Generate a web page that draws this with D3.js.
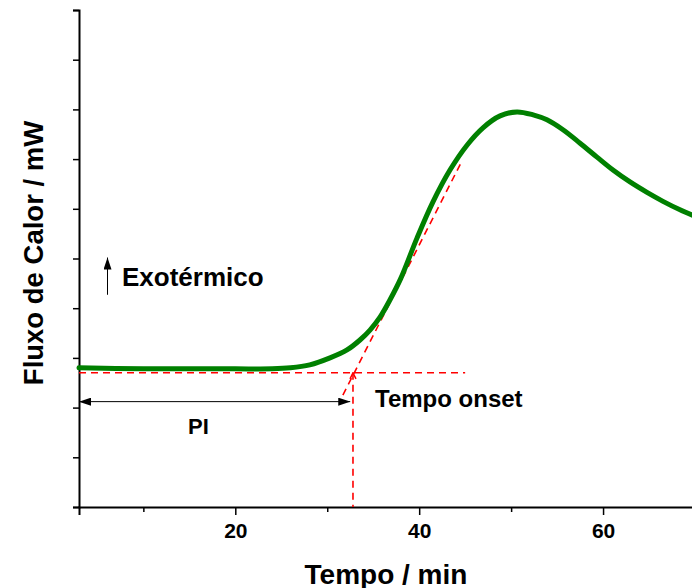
<!DOCTYPE html>
<html>
<head>
<meta charset="utf-8">
<script src="https://cdn.jsdelivr.net/npm/d3@7"></script>
<style>
  body { margin: 0; background: #fff; }
  svg text { font-family: "Liberation Sans", Arial, sans-serif; font-weight: bold; fill: #000; }
</style>
</head>
<body>
<div id="chart"></div>
<script>
// curva DSC
const tempo = [3, 10, 15, 20, 24, 26, 28.1, 30.3, 32.15, 33.56, 34.65, 35.74, 36.83, 38, 39.76, 41.5,
  43.35, 45.2, 46.94, 48.8, 50.64, 52.4, 53.9, 55.64, 57.5, 59.34, 61.08, 62.93, 64.78, 66.52, 68.37, 70];
const fluxo = [2.80, 2.78, 2.78, 2.78, 2.78, 2.80, 2.86, 3.00, 3.16, 3.36, 3.56, 3.82, 4.17, 4.60, 5.41, 6.14,
  6.78, 7.28, 7.63, 7.87, 7.95, 7.89, 7.79, 7.59, 7.32, 7.04, 6.78, 6.54, 6.33, 6.15, 5.98, 5.85];

const xTicksMajor = [20, 40, 60];
const xTicksMinor = [10, 30, 50];
const yTicks = [0, 1, 2, 3, 4, 5, 6, 7, 8, 9, 10];

// construção do onset
const linhaBase = 2.70;
const linhaBaseFim = 45.0;
const onset = 32.8;
const tangente = [[31.7, 2.25], [44.7, 6.98]];
const setaPI = { y: 2.12, de: 3, ate: 32.5 };
const setaExo = { x: 6.1, de: 4.27, ate: 5.02 };

const width = 692;
const height = 588;

const x = d3.scaleLinear().domain([3, 70]).range([79, 695]);
const y = d3.scaleLinear().domain([0, 10]).range([507, 10]);

const svg = d3.select('#chart')
  .append('svg')
  .attr('width', width)
  .attr('height', height);

const defs = svg.append('defs');

defs.append('marker')
  .attr('id', 'seta')
  .attr('viewBox', '0 0 12 8')
  .attr('refX', 12)
  .attr('refY', 4)
  .attr('markerWidth', 12)
  .attr('markerHeight', 8)
  .attr('markerUnits', 'userSpaceOnUse')
  .attr('orient', 'auto-start-reverse')
  .append('path')
  .attr('d', 'M0,0L12,4L0,8Z')
  .attr('fill', '#000');

defs.append('marker')
  .attr('id', 'setaVermelha')
  .attr('viewBox', '0 0 8 8')
  .attr('refX', 4)
  .attr('refY', 1)
  .attr('markerWidth', 8)
  .attr('markerHeight', 8)
  .attr('markerUnits', 'userSpaceOnUse')
  .attr('orient', '0')
  .append('path')
  .attr('d', 'M1,7L4,1L7,7')
  .attr('fill', 'none')
  .attr('stroke', '#ff0000')
  .attr('stroke-width', 1.5);

// eixos
const xAxis = svg.append('g')
  .attr('transform', `translate(0,${y(0)})`)
  .call(d3.axisBottom(x).tickValues(xTicksMajor).tickSize(8).tickPadding(8).tickFormat(d3.format('d')));

svg.append('g')
  .attr('transform', `translate(0,${y(0)})`)
  .call(d3.axisBottom(x).tickValues(xTicksMinor).tickSize(5).tickFormat(''))
  .call(g => g.select('.domain').remove());

svg.append('g')
  .attr('transform', `translate(${x(3)},0)`)
  .call(d3.axisLeft(y).tickValues(yTicks).tickSize(6).tickFormat(''));

svg.selectAll('.domain').attr('stroke-width', 2).attr('stroke', '#000');
svg.selectAll('.tick line').attr('stroke-width', 1.5).attr('stroke', '#000');
xAxis.selectAll('.tick text')
  .attr('font-size', 21)
  .attr('font-family', '"Liberation Sans", Arial, sans-serif')
  .attr('font-weight', 'bold');

// títulos
svg.append('text')
  .attr('x', 386)
  .attr('y', 584)
  .attr('text-anchor', 'middle')
  .attr('font-size', 28)
  .text('Tempo / min');

svg.append('text')
  .attr('transform', 'translate(43,253) rotate(-90)')
  .attr('text-anchor', 'middle')
  .attr('font-size', 27.5)
  .text('Fluxo de Calor / mW');

// linhas de construção
function tracejado(sel) {
  return sel
    .attr('stroke', '#ff0000')
    .attr('stroke-width', 1.6)
    .attr('stroke-dasharray', '7,5')
    .attr('fill', 'none');
}

tracejado(svg.append('line'))
  .attr('x1', x(3)).attr('x2', x(linhaBaseFim))
  .attr('y1', y(linhaBase)).attr('y2', y(linhaBase));

tracejado(svg.append('line'))
  .attr('x1', x(tangente[0][0])).attr('y1', y(tangente[0][1]))
  .attr('x2', x(tangente[1][0])).attr('y2', y(tangente[1][1]));

tracejado(svg.append('line'))
  .attr('x1', x(onset)).attr('x2', x(onset))
  .attr('y1', y(linhaBase)).attr('y2', y(0))
  .attr('marker-start', 'url(#setaVermelha)');

// curva
const line = d3.line()
  .x((d, i) => x(tempo[i]))
  .y(d => y(d))
  .curve(d3.curveCatmullRom.alpha(0.5));

svg.append('path')
  .datum(fluxo)
  .attr('d', line)
  .attr('fill', 'none')
  .attr('stroke', '#008000')
  .attr('stroke-width', 5)
  .attr('stroke-linecap', 'round');

// seta PI
svg.append('line')
  .attr('x1', x(setaPI.de)).attr('x2', x(setaPI.ate))
  .attr('y1', y(setaPI.y)).attr('y2', y(setaPI.y))
  .attr('stroke', '#000')
  .attr('stroke-width', 1)
  .attr('marker-start', 'url(#seta)')
  .attr('marker-end', 'url(#seta)');

svg.append('text')
  .attr('x', 188)
  .attr('y', 434)
  .attr('font-size', 22)
  .text('PI');

svg.append('text')
  .attr('x', 375)
  .attr('y', 407)
  .attr('font-size', 24)
  .text('Tempo onset');

// seta exotérmico
svg.append('line')
  .attr('x1', x(setaExo.x)).attr('x2', x(setaExo.x))
  .attr('y1', y(setaExo.de)).attr('y2', y(setaExo.ate))
  .attr('stroke', '#000')
  .attr('stroke-width', 1)
  .attr('marker-end', 'url(#seta)');

svg.append('text')
  .attr('x', 122)
  .attr('y', 286)
  .attr('font-size', 26)
  .text('Exotérmico');
</script>
</body>
</html>
